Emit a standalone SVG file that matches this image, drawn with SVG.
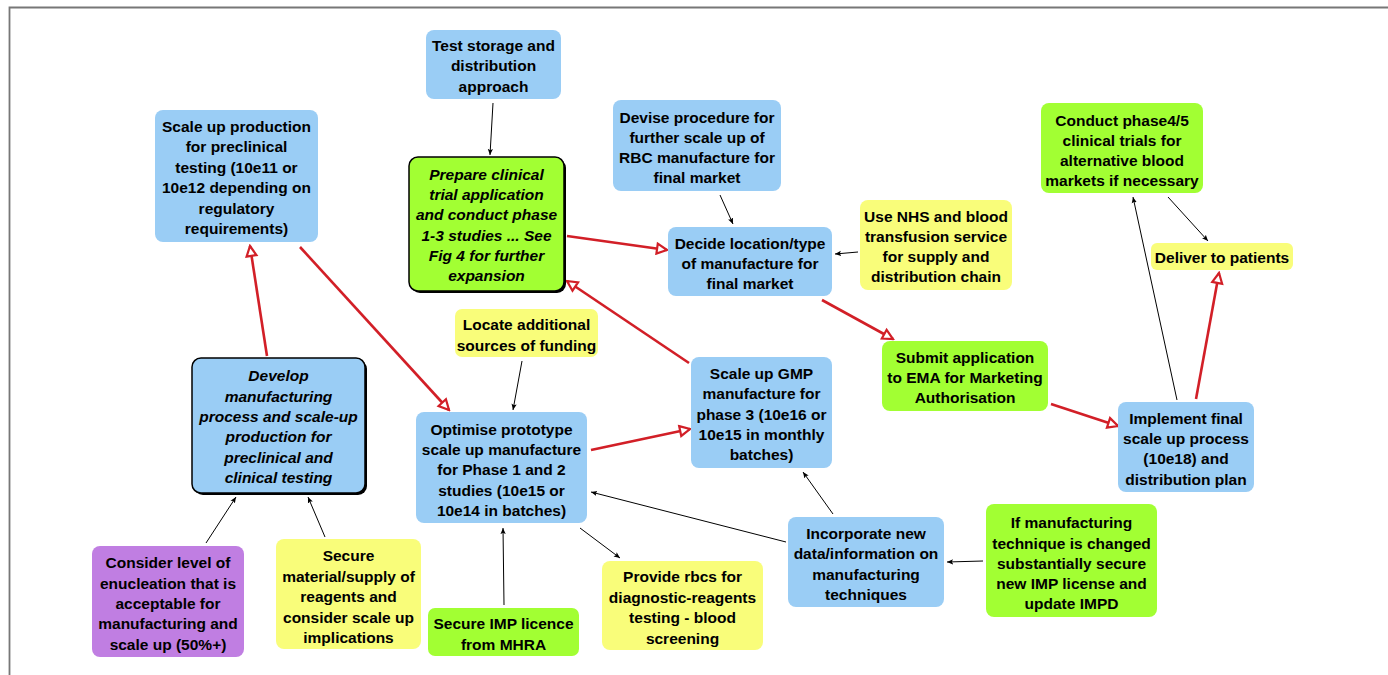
<svg xmlns="http://www.w3.org/2000/svg" width="1388" height="675" viewBox="0 0 1388 675">
<style>
.t{font-family:"Liberation Sans",Arial,sans-serif;font-weight:bold;font-size:15.5px;fill:#000;text-anchor:middle}
.i{font-style:italic}
.blue{fill:#9ACDF5}
.green{fill:#A2FF33}
.yellow{fill:#F9FD7A}
.purple{fill:#C07EE2}
.bord{stroke:#000;stroke-width:1.5}
.red{stroke:#D21F27;stroke-width:2.6;fill:none;marker-end:url(#ah-red)}
.blk{stroke:#000;stroke-width:1;fill:none;marker-end:url(#ah-blk)}
</style>
<defs>
<marker id="ah-red" viewBox="0 0 14 14" refX="12" refY="7" markerWidth="14" markerHeight="14" markerUnits="userSpaceOnUse" orient="auto">
<path d="M2,2 L12,7 L2,12 z" fill="#fff" stroke="#D21F27" stroke-width="2.2"/>
</marker>
<marker id="ah-blk" viewBox="0 0 8 8" refX="7" refY="4" markerWidth="7" markerHeight="7" markerUnits="userSpaceOnUse" orient="auto">
<path d="M0,1 L7,4 L0,7 L1.5,4 z" fill="#000"/>
</marker>
</defs>
<rect width="1388" height="675" fill="#fff"/>
<path d="M9.5,675 V7.5 H1388" fill="none" stroke="#777" stroke-width="1.8"/>

<g id="connectors">
<line class="red" x1="267" y1="356" x2="250" y2="246"/>
<line class="red" x1="300" y1="247" x2="449" y2="410"/>
<line class="red" x1="567" y1="236" x2="667" y2="250"/>
<line class="red" x1="689" y1="363" x2="567" y2="281"/>
<line class="red" x1="591" y1="450" x2="690" y2="429"/>
<line class="red" x1="822" y1="300" x2="893" y2="339"/>
<line class="red" x1="1051" y1="404" x2="1118" y2="426"/>
<line class="red" x1="1196" y1="399" x2="1219" y2="273"/>
<line class="blk" x1="493" y1="103" x2="490" y2="155"/>
<line class="blk" x1="720" y1="195" x2="733" y2="224"/>
<line class="blk" x1="858" y1="252" x2="835" y2="254"/>
<line class="blk" x1="1168" y1="197" x2="1208" y2="241"/>
<line class="blk" x1="1177" y1="400" x2="1133" y2="197"/>
<line class="blk" x1="522" y1="361" x2="513" y2="410"/>
<line class="blk" x1="206" y1="543" x2="236" y2="497"/>
<line class="blk" x1="325" y1="537" x2="308" y2="497"/>
<line class="blk" x1="504" y1="605" x2="503" y2="528"/>
<line class="blk" x1="580" y1="528" x2="620" y2="558"/>
<line class="blk" x1="786" y1="542" x2="591" y2="492"/>
<line class="blk" x1="833" y1="514" x2="803" y2="472"/>
<line class="blk" x1="983" y1="561" x2="947" y2="562"/>
</g>

<g id="scale-preclinical">
<rect class="blue" x="155" y="110" width="163" height="132" rx="8"/>
<text class="t"><tspan x="236.5" y="132">Scale up production</tspan><tspan x="236.5" y="152">for preclinical</tspan><tspan x="236.5" y="173">testing (10e11 or</tspan><tspan x="236.5" y="193">10e12 depending on</tspan><tspan x="236.5" y="213.5">regulatory</tspan><tspan x="236.5" y="234">requirements)</tspan></text>
</g>

<g id="test-storage">
<rect class="blue" x="426" y="30" width="135" height="69" rx="8"/>
<text class="t"><tspan x="493.5" y="51">Test storage and</tspan><tspan x="493.5" y="71">distribution</tspan><tspan x="493.5" y="92">approach</tspan></text>
</g>

<g id="prepare-clinical">
<rect x="411" y="159" width="155" height="134" rx="9" fill="#000"/>
<rect class="green bord" x="409" y="157" width="155" height="134" rx="9"/>
<text class="t i"><tspan x="486.5" y="179.5">Prepare clinical</tspan><tspan x="486.5" y="199.5">trial application</tspan><tspan x="486.5" y="219.5">and conduct phase</tspan><tspan x="486.5" y="240.5">1-3 studies ... See</tspan><tspan x="486.5" y="260.5">Fig 4 for further</tspan><tspan x="486.5" y="280.5">expansion</tspan></text>
</g>

<g id="devise-procedure">
<rect class="blue" x="613" y="100" width="168" height="91" rx="8"/>
<text class="t"><tspan x="697" y="122.5">Devise procedure for</tspan><tspan x="697" y="142.5">further scale up of</tspan><tspan x="697" y="162.5">RBC manufacture for</tspan><tspan x="697" y="182.5">final market</tspan></text>
</g>

<g id="decide-location">
<rect class="blue" x="668" y="227" width="164" height="69" rx="8"/>
<text class="t"><tspan x="750" y="248.5">Decide location/type</tspan><tspan x="750" y="268.5">of manufacture for</tspan><tspan x="750" y="288.5">final market</tspan></text>
</g>

<g id="use-nhs">
<rect class="yellow" x="860" y="200" width="152" height="90" rx="8"/>
<text class="t"><tspan x="936" y="221.5">Use NHS and blood</tspan><tspan x="936" y="241.5">transfusion service</tspan><tspan x="936" y="261.5">for supply and</tspan><tspan x="936" y="281.5">distribution chain</tspan></text>
</g>

<g id="conduct-phase45">
<rect class="green" x="1041" y="103" width="162" height="90" rx="8"/>
<text class="t"><tspan x="1122" y="125.5">Conduct phase4/5</tspan><tspan x="1122" y="145.5">clinical trials for</tspan><tspan x="1122" y="165.5">alternative blood</tspan><tspan x="1122" y="185.5">markets if necessary</tspan></text>
</g>

<g id="deliver-patients">
<rect class="yellow" x="1151" y="243" width="142" height="27" rx="6"/>
<text class="t"><tspan x="1222" y="262.5">Deliver to patients</tspan></text>
</g>

<g id="implement-final">
<rect class="blue" x="1118" y="402" width="136" height="90" rx="8"/>
<text class="t"><tspan x="1186" y="423.5">Implement final</tspan><tspan x="1186" y="443.5">scale up process</tspan><tspan x="1186" y="463.5">(10e18) and</tspan><tspan x="1186" y="484.5">distribution plan</tspan></text>
</g>

<g id="if-manufacturing">
<rect class="green" x="986" y="504" width="171" height="113" rx="8"/>
<text class="t"><tspan x="1071.5" y="527.5">If manufacturing</tspan><tspan x="1071.5" y="548.5">technique is changed</tspan><tspan x="1071.5" y="568.5">substantially secure</tspan><tspan x="1071.5" y="588.5">new IMP license and</tspan><tspan x="1071.5" y="608.5">update IMPD</tspan></text>
</g>

<g id="incorporate-data">
<rect class="blue" x="788" y="517" width="156" height="90" rx="8"/>
<text class="t"><tspan x="866" y="538.5">Incorporate new</tspan><tspan x="866" y="558.5">data/information on</tspan><tspan x="866" y="579.5">manufacturing</tspan><tspan x="866" y="599.5">techniques</tspan></text>
</g>

<g id="scale-gmp">
<rect class="blue" x="691" y="357" width="141" height="111" rx="8"/>
<text class="t"><tspan x="761.5" y="378.5">Scale up GMP</tspan><tspan x="761.5" y="398.5">manufacture for</tspan><tspan x="761.5" y="419.5">phase 3 (10e16 or</tspan><tspan x="761.5" y="439.5">10e15 in monthly</tspan><tspan x="761.5" y="459.5">batches)</tspan></text>
</g>

<g id="submit-ema">
<rect class="green" x="882" y="341" width="166" height="70" rx="8"/>
<text class="t"><tspan x="965" y="362.5">Submit application</tspan><tspan x="965" y="382.5">to EMA for Marketing</tspan><tspan x="965" y="402.5">Authorisation</tspan></text>
</g>

<g id="provide-rbcs">
<rect class="yellow" x="602" y="561" width="161" height="89" rx="8"/>
<text class="t"><tspan x="682.5" y="581.5">Provide rbcs for</tspan><tspan x="682.5" y="602.5">diagnostic-reagents</tspan><tspan x="682.5" y="622.5">testing - blood</tspan><tspan x="682.5" y="643.5">screening</tspan></text>
</g>

<g id="optimise-prototype">
<rect class="blue" x="416" y="412" width="171" height="111" rx="8"/>
<text class="t"><tspan x="501.5" y="434.5">Optimise prototype</tspan><tspan x="501.5" y="454.5">scale up manufacture</tspan><tspan x="501.5" y="474.5">for Phase 1 and 2</tspan><tspan x="501.5" y="495.5">studies (10e15 or</tspan><tspan x="501.5" y="515.5">10e14 in batches)</tspan></text>
</g>

<g id="locate-funding">
<rect class="yellow" x="455" y="309" width="143" height="48" rx="7"/>
<text class="t"><tspan x="526.5" y="329.5">Locate additional</tspan><tspan x="526.5" y="350.5">sources of funding</tspan></text>
</g>

<g id="develop-manufacturing">
<rect x="194" y="360" width="173" height="135" rx="9" fill="#000"/>
<rect class="blue bord" x="192" y="358" width="173" height="135" rx="9"/>
<text class="t i"><tspan x="278.5" y="381">Develop</tspan><tspan x="278.5" y="401.5">manufacturing</tspan><tspan x="278.5" y="422">process and scale-up</tspan><tspan x="278.5" y="442">production for</tspan><tspan x="278.5" y="462.5">preclinical and</tspan><tspan x="278.5" y="482.5">clinical testing</tspan></text>
</g>

<g id="secure-material">
<rect class="yellow" x="276" y="539" width="145" height="110" rx="8"/>
<text class="t"><tspan x="348.5" y="560.5">Secure</tspan><tspan x="348.5" y="581.5">material/supply of</tspan><tspan x="348.5" y="601.5">reagents and</tspan><tspan x="348.5" y="622.5">consider scale up</tspan><tspan x="348.5" y="642.5">implications</tspan></text>
</g>

<g id="secure-imp">
<rect class="green" x="428" y="608" width="151" height="48" rx="7"/>
<text class="t"><tspan x="503.5" y="628.5">Secure IMP licence</tspan><tspan x="503.5" y="649.5">from MHRA</tspan></text>
</g>

<g id="consider-enucleation">
<rect class="purple" x="92" y="546" width="152" height="111" rx="8"/>
<text class="t"><tspan x="168" y="567.5">Consider level of</tspan><tspan x="168" y="588.5">enucleation that is</tspan><tspan x="168" y="608.5">acceptable for</tspan><tspan x="168" y="628.5">manufacturing and</tspan><tspan x="168" y="649.5">scale up (50%+)</tspan></text>
</g>
</svg>
